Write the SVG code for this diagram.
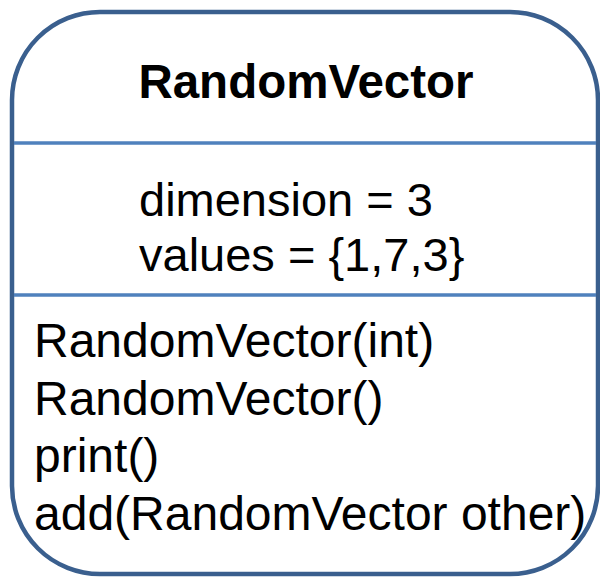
<svg xmlns="http://www.w3.org/2000/svg" width="600" height="577" viewBox="0 0 600 577">
<style>
.t{font-family:"Liberation Sans",Arial,sans-serif;font-size:48px;fill:#000}
.b{font-weight:bold;text-anchor:middle;font-size:47.5px}
.a{font-size:47px}
.div{stroke:#4F81BD;stroke-width:3.5}
</style>
<rect width="600" height="577" fill="#fff"/>
<g id="class-RandomVector">
<rect x="12" y="12" width="586" height="562" rx="88" ry="88" fill="#fff" stroke="#3A5F8E" stroke-width="4.5"/>
<line class="div" x1="14" y1="143" x2="596" y2="143"/>
<line class="div" x1="14" y1="295" x2="596" y2="295"/>
<text class="t b" x="306" y="98">RandomVector</text>
<text class="t a" x="139" y="216">dimension = 3</text>
<text class="t a" x="139" y="271">values = {1,7,3}</text>
<text class="t" x="34" y="357">RandomVector(int)</text>
<text class="t" x="34" y="415">RandomVector()</text>
<text class="t" x="34" y="472">print()</text>
<text class="t" x="34" y="530">add(RandomVector other)</text>
</g>
<g id="connectors"/>
</svg>
